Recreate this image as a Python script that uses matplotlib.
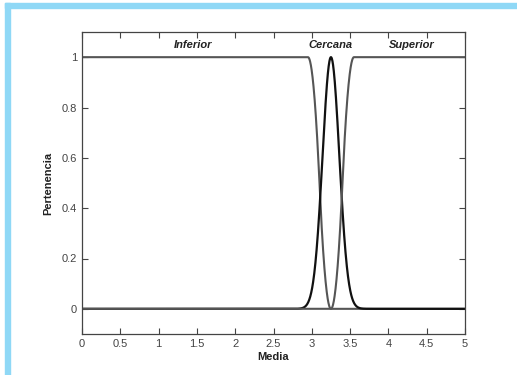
import numpy as np
import matplotlib.pyplot as plt
from matplotlib.patches import Rectangle

# parametros de las funciones de pertenencia
inferior_zmf = [2.95, 3.25]      # a, b  (forma Z)
cercana_gauss = [0.11, 3.25]     # sigma, c
superior_smf = [3.25, 3.55]      # a, b  (forma S)

etiquetas = ['Inferior', 'Cercana', 'Superior']
etiq_x = [1.45, 3.24, 4.3]
xticks = [0, 0.5, 1, 1.5, 2, 2.5, 3, 3.5, 4, 4.5, 5]
xticklabels = ['0', '0.5', '1', '1.5', '2', '2.5', '3', '3.5', '4', '4.5', '5']
yticks = [0, 0.2, 0.4, 0.6, 0.8, 1]
yticklabels = ['0', '0.2', '0.4', '0.6', '0.8', '1']


def smf(x, a, b):
    y = np.zeros_like(x)
    m = (a + b) / 2
    t = (x > a) & (x <= m)
    y[t] = 2 * ((x[t] - a) / (b - a)) ** 2
    t = (x > m) & (x <= b)
    y[t] = 1 - 2 * ((x[t] - b) / (b - a)) ** 2
    y[x > b] = 1
    return y


def zmf(x, a, b):
    return 1 - smf(x, a, b)


def gaussmf(x, s, c):
    return np.exp(-(x - c) ** 2 / (2 * s ** 2))


plt.rcParams['font.family'] = ['Liberation Sans', 'DejaVu Sans']

x = np.linspace(0, 5, 2001)

fig = plt.figure(figsize=(5.17, 3.75), dpi=100)
# borde azul
fig.patches.append(Rectangle((5 / 517, 0), 5 / 517, 1 - 3 / 375, transform=fig.transFigure,
                             color='#8fd8f6', zorder=0))
fig.patches.append(Rectangle((5 / 517, 1 - 8 / 375), 1, 5 / 375, transform=fig.transFigure,
                             color='#8fd8f6', zorder=0))

ax = fig.add_axes([82 / 517, 41 / 375, 383 / 517, 302 / 375])
ax.plot(x, zmf(x, *inferior_zmf), color='#555555', lw=1.5)
ax.plot(x, gaussmf(x, *cercana_gauss), color='#111111', lw=1.6)
ax.plot(x, smf(x, *superior_smf), color='#555555', lw=1.5)

ax.set_xlim(0, 5)
ax.set_ylim(-0.1, 1.1)
ax.set_xticks(xticks)
ax.set_xticklabels(xticklabels)
ax.set_yticks(yticks)
ax.set_yticklabels(yticklabels)
ax.tick_params(direction='in', top=True, right=True, length=4, width=0.8,
               colors='#444444', labelsize=8, labelcolor='#444444')
for s in ax.spines.values():
    s.set_color('#444444')
    s.set_linewidth(0.9)

for lab, xx in zip(etiquetas, etiq_x):
    ax.text(xx, 1.048, lab, ha='center', va='center', fontsize=8,
            fontweight='bold', fontstyle='italic', color='#222222')

ax.set_xlabel('Media', fontsize=8, fontweight='bold', color='#222222', labelpad=2)
ax.set_ylabel('Pertenencia', fontsize=8, fontweight='bold', color='#222222', labelpad=6)

fig.savefig('out.png', dpi=100)
